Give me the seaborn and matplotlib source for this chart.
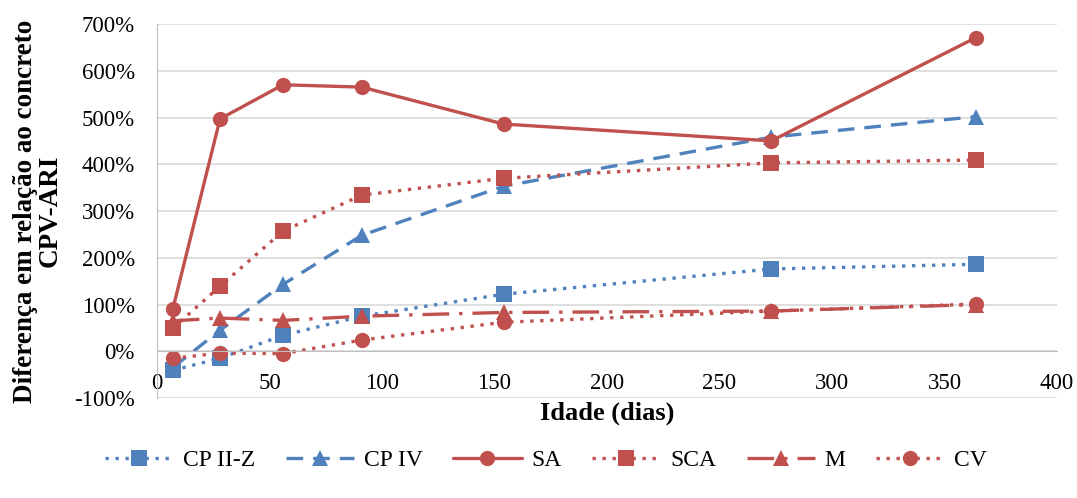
import matplotlib
matplotlib.use("Agg")
import matplotlib.pyplot as plt
from matplotlib.ticker import FuncFormatter
import seaborn as sns
import pandas as pd

# idade dos ensaios (dias)
idade = [7, 28, 56, 91, 154, 273, 364]

# diferenca em relacao ao CPV-ARI (%)
cp_ii_z = [-41, -15, 34, 75, 122, 176, 186]
cp_iv = [-35, 45, 143, 248, 353, 458, 502]
sa = [90, 497, 570, 565, 486, 450, 671]
sca = [49, 139, 257, 334, 370, 403, 409]
m = [65, 71, 66, 75, 83, 86, 100]
cv = [-15, -4, -5, 24, 62, 86, 101]

azul = "#4F81BD"
verm = "#C0504D"

series = [
    ("CP II-Z", cp_ii_z, azul, (0, (1, 2)), "s"),
    ("CP IV", cp_iv, azul, (0, (5, 3)), "^"),
    ("SA", sa, verm, "-", "o"),
    ("SCA", sca, verm, (0, (1, 2)), "s"),
    ("M", m, verm, (0, (8, 3, 1, 3)), "^"),
    ("CV", cv, verm, (0, (1, 2)), "o"),
]

sns.set_style("white")
plt.rcParams["font.family"] = ["Liberation Serif", "DejaVu Serif"]
plt.rcParams["text.color"] = "black"
plt.rcParams["axes.labelcolor"] = "black"
plt.rcParams["xtick.color"] = "black"
plt.rcParams["ytick.color"] = "black"

fig = plt.figure(figsize=(10.77, 4.98), dpi=100)
ax = fig.add_axes([0.1458, 0.2008, 0.8357, 0.751])

for nome, vals, cor, ls, mk in series:
    df = pd.DataFrame({"idade": idade, "dif": vals})
    sns.lineplot(data=df, x="idade", y="dif", ax=ax, color=cor, linestyle=ls,
                 linewidth=2.4, marker=mk, markersize=11, markeredgewidth=0,
                 label=nome)

ax.set_xlim(0, 400)
ax.set_ylim(-100, 700)
ax.set_yticks(range(-100, 701, 100))
ax.set_xticks(range(0, 401, 50))
ax.yaxis.set_major_formatter(FuncFormatter(lambda v, p: f"{v:.0f}%"))
ax.grid(axis="y", color="#D9D9D9", linewidth=1.2)
ax.set_axisbelow(True)

for s in ["top", "right"]:
    ax.spines[s].set_visible(False)
ax.spines["bottom"].set_position(("data", 0))
ax.spines["bottom"].set_color("#BFBFBF")
ax.spines["left"].set_color("#BFBFBF")
ax.tick_params(axis="both", length=0, labelsize=16.5)
ax.tick_params(axis="y", pad=16)
ax.tick_params(axis="x", pad=16)

ax.set_xlabel("Idade (dias)", fontsize=19, fontweight="bold")
ax.xaxis.set_label_coords(0.5, -0.01)
ax.set_ylabel("Diferença em relação ao concreto\nCPV-ARI", fontsize=19.5,
              fontweight="bold", linespacing=0.95)
ax.yaxis.set_label_coords(-0.105, 0.5)

ax.legend(loc="center", bbox_to_anchor=(0.432, -0.166), ncol=6, frameon=False,
          fontsize=17, handlelength=2.9, columnspacing=1.3, handletextpad=0.4,
          borderaxespad=0)

fig.savefig("out.png", dpi=100)
